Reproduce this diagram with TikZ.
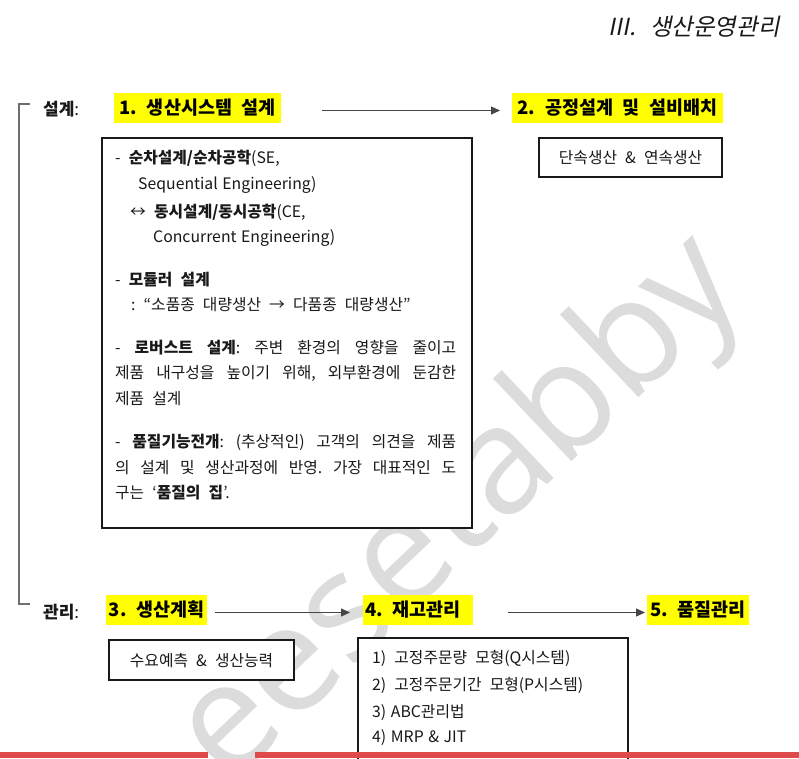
\documentclass[tikz,border=0pt]{standalone}
\usepackage{fontspec}
\setmainfont{Noto Sans CJK KR}[WordSpace=2.3]
\newfontfamily\lat{Noto Sans CJK KR}[WordSpace=1.3]
\newfontfamily\titlefont[FakeSlant=0.2,WordSpace=2.3]{Noto Sans CJK KR}
\newfontfamily\wmfont{Open Sans}
\usetikzlibrary{arrows.meta}
\definecolor{hlyellow}{RGB}{255,255,0}
\definecolor{barred}{RGB}{222,74,74}
\definecolor{wmgray}{RGB}{220,220,220}
\definecolor{ink}{RGB}{25,25,25}
\definecolor{linegray}{RGB}{70,70,70}
\definecolor{brgray}{RGB}{110,110,110}
\frenchspacing
\tikzset{
  x=1pt, y=-1pt,
  hl/.style={fill=hlyellow, text=black, font=\fontsize{18.5}{20}\selectfont\bfseries, inner xsep=0pt, inner ysep=0pt, minimum height=30pt, anchor=west},
  lbl/.style={text=ink, font=\fontsize{17}{20}\selectfont, anchor=west, inner sep=0pt},
  frame/.style={draw=ink, fill=white, line width=2.2pt, anchor=north west, inner sep=0pt, text=ink, font=\fontsize{15.8}{18}\selectfont},
  bt/.style={text=ink, font=\fontsize{15.8}{18}\selectfont, anchor=west, inner sep=0pt},
  flow/.style={draw=linegray, line width=1.1pt, -{Triangle[length=9pt,width=8pt]}},
}
\begin{document}
\begin{tikzpicture}
\useasboundingbox (0,0) rectangle (799,758);
\fill[white] (0,0) rectangle (799,758);
% watermark
\node[rotate=43.5, text=wmgray, font=\wmfont\fontsize{150}{150}\selectfont, inner sep=0pt] (wm) at (462,512) {eesetabby};
% title
\node[anchor=east, text=ink, font=\titlefont\fontsize{23.5}{26}\selectfont, inner sep=0pt] (title) at (780,27) {III.\hspace{14pt}생산운영관리};
% bracket
\coordinate (brtop) at (30,104);
\coordinate (brbot) at (30,604);
\draw[brgray, line width=1.6pt] (brtop) -- (19,104) -- (19,604) -- (brbot);
% top row
\node[lbl] (lab1) at (43,109) {\textbf{설계}:};
\node[hl, minimum width=167pt] (s1) at (114,108) {1. 생산시스템 설계};
\node[hl, minimum width=211pt] (s2) at (512,108) {2. 공정설계 및 설비배치};
\draw[flow] ([xshift=41pt,yshift=-2.5pt]s1.east) -- ([xshift=-12pt,yshift=-2.5pt]s2.west);
\node[frame, minimum width=183pt, minimum height=39pt] (b2) at (538,137) {단속생산 \& 연속생산};
% big box
\node[frame, minimum width=370pt, minimum height=390pt] (b1) at (101,137) {};
\node[bt] (l1) at (115,158) {- \textbf{순차설계/순차공학}(SE,};
\node[bt] (l2) at (138,185) {\lat Sequential Engineering)};
\node[bt] (l3) at (130,212) {↔ \textbf{동시설계/동시공학}(CE,};
\node[bt] (l4) at (153,238) {\lat Concurrent Engineering)};
\node[bt] (l5) at (115,280) {- \textbf{모듈러 설계}};
\node[bt] (l6) at (131,305) {: “소품종 대량생산 → 다품종 대량생산”};
\node[bt] (l7) at (115,348) {\makebox[341pt][s]{-\hfill\textbf{로버스트}\hfill\textbf{설계}:\hfill 주변\hfill 환경의\hfill 영향을\hfill 줄이고}};
\node[bt] (l8) at (115,373) {\makebox[341pt][s]{제품\hfill 내구성을\hfill 높이기\hfill 위해,\hfill 외부환경에\hfill 둔감한}};
\node[bt] (l9) at (115,399) {제품 설계};
\node[bt] (l10) at (115,442) {\makebox[341pt][s]{-\hfill\textbf{품질기능전개}:\hfill (추상적인)\hfill 고객의\hfill 의견을\hfill 제품}};
\node[bt] (l11) at (115,468) {\makebox[341pt][s]{의\hfill 설계\hfill 및\hfill 생산과정에\hfill 반영.\hfill 가장\hfill 대표적인\hfill 도}};
\node[bt] (l12) at (115,493) {구는 ‘\textbf{품질의 집}’.};
% bottom row
\node[lbl] (lab2) at (43,612) {\textbf{관리}:};
\node[hl, minimum width=101pt] (s3) at (106,610) {3. 생산계획};
\node[hl, minimum width=110pt] (s4) at (363,610) {4. 재고관리\hspace*{10pt}};
\node[hl, minimum width=102pt] (s5) at (647,610) {5. 품질관리};
\draw[flow] ([xshift=8pt,yshift=-2.5pt]s3.east) -- ([xshift=-13pt,yshift=-2.5pt]s4.west);
\draw[flow] ([xshift=35pt,yshift=-2.5pt]s4.east) -- ([xshift=-2pt,yshift=-2.5pt]s5.west);
\node[frame, minimum width=185pt, minimum height=40pt] (b3) at (108,639) {수요예측 \& 생산능력};
\node[frame, minimum width=270pt, minimum height=140pt] (b4) at (357,637) {};
\node[bt] (m1) at (372,658) {1) 고정주문량 모형(Q시스템)};
\node[bt] (m2) at (372,685) {2) 고정주문기간 모형(P시스템)};
\node[bt] (m3) at (372,712) {\lat 3) ABC관리법};
\node[bt] (m4) at (372,738) {\lat 4) MRP \& JIT};
% bottom bar
\fill[barred] (0,752) rectangle (208,758);
\fill[barred] (255,752) rectangle (799,758);
\end{tikzpicture}
\end{document}
